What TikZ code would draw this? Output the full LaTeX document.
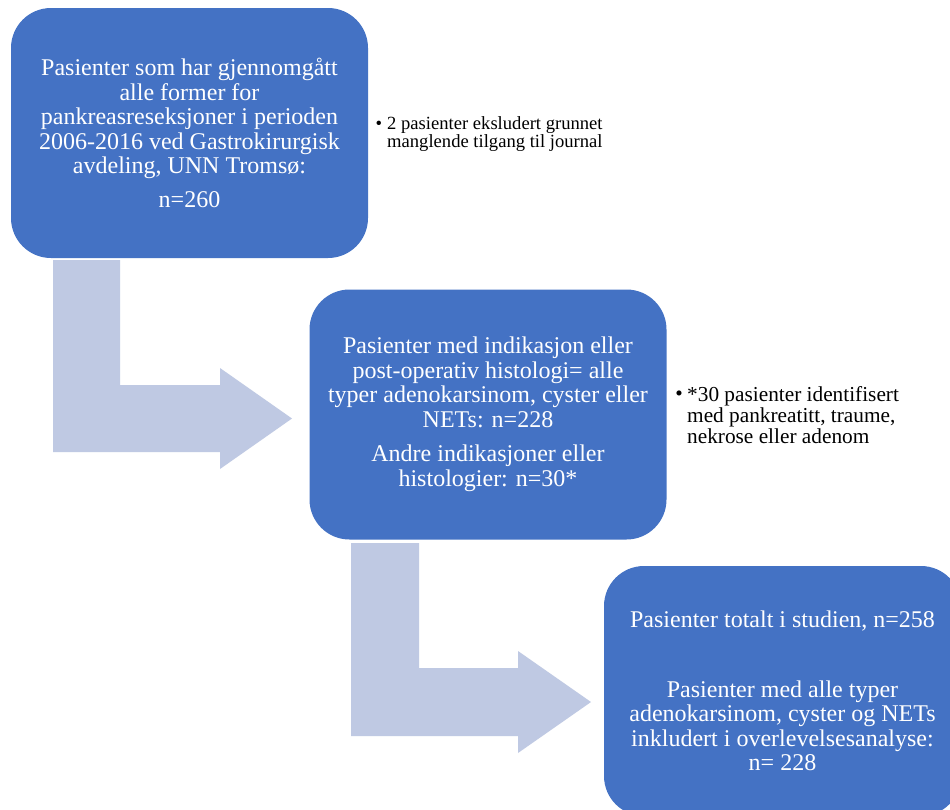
\documentclass[tikz,border=0pt]{standalone}
\usepackage{fontspec}
\setmainfont{Liberation Serif}
\definecolor{boxblue}{RGB}{68,114,196}
\definecolor{arrowblue}{RGB}{191,201,227}
\tikzset{
  box/.style={draw=none, fill=boxblue, rounded corners=40pt, minimum width=357pt,
    minimum height=250pt, text=white, align=center, inner sep=0pt,
    font=\fontsize{24}{24.5}\selectfont},
  notetext/.style={anchor=north west, align=left, inner sep=0pt, text=black},
  bulletmark/.style={anchor=base, inner sep=0pt, text=black},
  bentarrow/.style={fill=arrowblue, draw=none}
}
\begin{document}
\begin{tikzpicture}[x=1pt,y=-1pt]
\useasboundingbox (0,0) rectangle (950,809);
\fill[white] (0,0) rectangle (950,809);
\begin{scope}
\clip (0,0) rectangle (950,809);
% bent arrows
\fill[bentarrow] (53,260) -- (120,260) -- (120,385) -- (220,385) -- (220,368) -- (292,418.5)
  -- (220,469) -- (220,452) -- (53,452) -- cycle;
\fill[bentarrow] (351,543) -- (419,543) -- (419,668) -- (518,668) -- (518,651) -- (591,702)
  -- (518,753) -- (518,736) -- (351,736) -- cycle;
% boxes
\node[box] (b1) at (189.5,133) {Pasienter som har gjennomgått\\alle former for\\pankreasreseksjoner i perioden\\2006-2016 ved Gastrokirurgisk\\avdeling, UNN Tromsø:\\[9.5pt]n=260};
\node[box] (b2) at (488,414.5) {Pasienter med indikasjon eller\\post-operativ histologi= alle\\typer adenokarsinom, cyster eller\\NETs: n=228\\[10pt]Andre indikasjoner eller\\histologier: n=30*};
\node[box] (b3) at (782.5,691) {Pasienter totalt i studien, n=258\\[45.5pt]Pasienter med alle typer\\adenokarsinom, cyster og NETs\\inkludert i overlevelsesanalyse:\\n= 228};
% notes
\node[bulletmark, font=\fontsize{18.6}{16.8}\selectfont] (m1) at (379,129.5) {•};
\node[notetext, font=\fontsize{18.6}{16.8}\selectfont] (n1) at (387,116.8) {2 pasienter eksludert grunnet\\manglende tilgang til journal};
\node[bulletmark, font=\fontsize{21.3}{21}\selectfont] (m2) at (679,400.7) {•};
\node[notetext, font=\fontsize{21.3}{21}\selectfont] (n2) at (687,386.2) {*30 pasienter identifisert\\med pankreatitt, traume,\\nekrose eller adenom};
\end{scope}
\end{tikzpicture}
\end{document}
